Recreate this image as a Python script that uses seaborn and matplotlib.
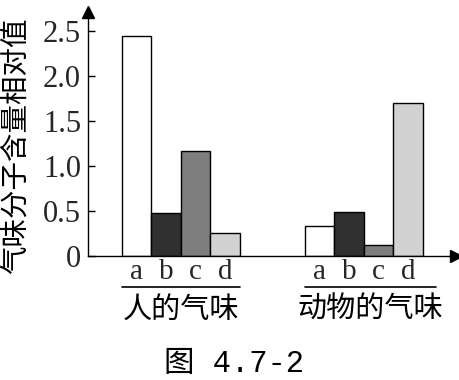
import matplotlib
matplotlib.use("Agg")
import matplotlib.pyplot as plt
import seaborn as sns
import pandas as pd

groups = ["人的气味", "动物的气味"]
letters = ["a", "b", "c", "d"]
human_values = [2.45, 0.48, 1.17, 0.26]
animal_values = [0.33, 0.49, 0.12, 1.70]
yticks = [0, 0.5, 1.0, 1.5, 2.0, 2.5]
ytick_labels = ["0", "0.5", "1.0", "1.5", "2.0", "2.5"]
ylabel = "气味分子含量相对值"
caption = "图 4.7-2"
bar_colors = ["#ffffff", "#303030", "#7e7e7e", "#d2d2d2"]

rows = []
for g, vals in zip(groups, [human_values, animal_values]):
    for l, v in zip(letters, vals):
        rows.append({"group": g, "letter": l, "value": v})
df = pd.DataFrame(rows)

sns.set_theme(style="white")
plt.rcParams["font.family"] = ["Liberation Serif", "Noto Sans CJK SC"]

W, H = 459, 380
fig = plt.figure(figsize=(W / 100, H / 100), dpi=100)
ax_left, ax_right, ax_bottom, ax_top = 88, 456, 256, 12
ax = fig.add_axes([ax_left / W, (H - ax_bottom) / H, (ax_right - ax_left) / W, (ax_bottom - ax_top) / H])

sns.barplot(data=df, x="group", y="value", hue="letter", order=groups, hue_order=letters,
            palette=bar_colors, width=0.645, dodge=True, gap=0, edgecolor="black",
            linewidth=1.0, saturation=1, legend=False, ax=ax, errorbar=None)

ax.set_xlim(-0.508, 1.503)
ax.set_ylim(0, (ax_bottom - ax_top) / 90)
sns.despine(ax=ax)
for s in ["left", "bottom"]:
    ax.spines[s].set_color("black")
    ax.spines[s].set_linewidth(1.0)

ax.set_yticks(yticks)
ax.set_yticklabels(ytick_labels, fontsize=22, family="Liberation Serif")
ax.tick_params(axis="y", direction="in", length=5, width=1, color="black", pad=5, left=True)
ax.set_ylabel("")
ax.set_xlabel("")

# letter labels under each bar
centers = sorted(p.get_x() + p.get_width() / 2 for p in ax.patches if p.get_height() > 0)
ax.set_xticks(centers)
ax.set_xticklabels(letters * 2, fontsize=21, family="Liberation Serif")
ax.tick_params(axis="x", length=0, pad=2)

# underline and group labels
trans = ax.get_xaxis_transform()
px = 1.0 / (ax_bottom - ax_top)
for gi, g in enumerate(groups):
    gc = centers[gi * 4: gi * 4 + 4]
    half = (gc[1] - gc[0]) / 2
    x0 = gc[0] - half
    x1 = gc[-1] + half + (0.07 if gi == 1 else 0)
    ax.plot([x0, x1], [-31 * px, -31 * px], color="black", lw=1.2, transform=trans, clip_on=False)
    ax.text((x0 + x1) / 2, -54 * px, g, transform=trans, ha="center", va="center",
            fontsize=21, family=["Noto Sans CJK SC"], color="black")

# arrows
ax.plot([0], [1], marker="^", markersize=8, color="black", transform=ax.transAxes, clip_on=False)
ax.plot([1], [0], marker=">", markersize=8, color="black", transform=ax.transAxes, clip_on=False)

fig.text(16 / W, (H - 146) / H, ylabel, rotation=90, ha="center", va="center",
         fontsize=20.5, family=["Noto Sans CJK SC"], color="black")
fig.text(234 / W, (H - 364) / H, caption, ha="center", va="center",
         fontsize=22, family=["Liberation Mono", "Noto Sans CJK SC"], color="black")

fig.savefig("out.png", dpi=100)
